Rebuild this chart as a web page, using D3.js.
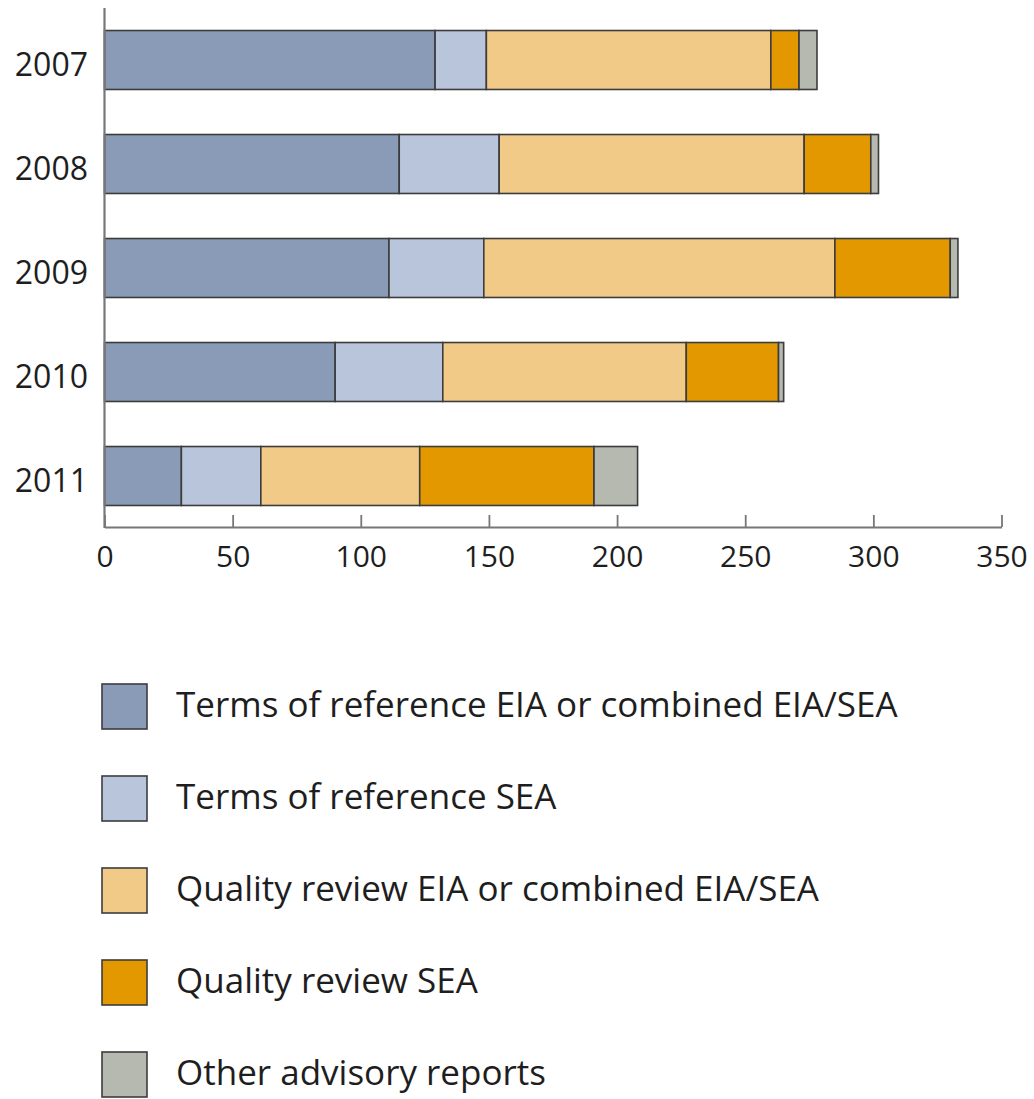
<!DOCTYPE html>
<html lang="en">
<head>
<meta charset="UTF-8">
<script src="https://cdnjs.cloudflare.com/ajax/libs/d3/7.8.5/d3.min.js"></script>
<title>Advisory reports</title>
<style>
	body { margin: 0; background: #fff; }
	text { font-family: "Open Sans", "Noto Sans", sans-serif; fill: #1e1e1e; }
</style>
</head>
<body>
<div id="chart"></div>
<script>
	/* data */
	var years = ["2007", "2008", "2009", "2010", "2011"];
	var series = ["Terms of reference EIA or combined EIA/SEA", "Terms of reference SEA",
		"Quality review EIA or combined EIA/SEA", "Quality review SEA", "Other advisory reports"];
	var torEia = [129, 115, 111, 90, 30];
	var torSea = [20, 39, 37, 42, 31];
	var qrEia = [111, 119, 137, 95, 62];
	var qrSea = [11, 26, 45, 36, 68];
	var other = [7, 3, 3, 2, 17];
	var xTicks = [0, 50, 100, 150, 200, 250, 300, 350];
	var colors = ["#8a9bb8", "#b9c5da", "#f2ca88", "#e39800", "#b5b9b0"];

	var w = 1034, h = 1099;
	var svg = d3.select("#chart").append("svg").attr("width", w).attr("height", h);

	var rows = years.map(function(y, i) {
		return { year: y, s0: torEia[i], s1: torSea[i], s2: qrEia[i], s3: qrSea[i], s4: other[i] };
	});
	var keys = ["s0", "s1", "s2", "s3", "s4"];
	var stacked = d3.stack().keys(keys)(rows);

	var x = d3.scaleLinear().domain([0, 350]).range([104.5, 1001.5]);
	var y = d3.scaleBand().domain(years).range([8, 528]).paddingInner(0.433).paddingOuter(0.2165);

	/* bars */
	svg.append("g").selectAll("g").data(stacked).enter().append("g")
		.attr("fill", function(d, i) { return colors[i]; })
		.selectAll("rect").data(function(d) { return d; }).enter().append("rect")
		.attr("x", function(d) { return x(d[0]); })
		.attr("y", function(d) { return y(d.data.year); })
		.attr("width", function(d) { return x(d[1]) - x(d[0]); })
		.attr("height", y.bandwidth())
		.attr("stroke", "#3c3c3c")
		.attr("stroke-width", 1.6);

	/* y axis line + labels */
	svg.append("line").attr("x1", 104.5).attr("x2", 104.5).attr("y1", 8).attr("y2", 528)
		.attr("stroke", "#777").attr("stroke-width", 2.2);
	svg.append("g").selectAll("text").data(years).enter().append("text")
		.attr("x", 88).attr("y", function(d) { return y(d) + y.bandwidth() / 2 + 16; })
		.attr("text-anchor", "end")
		.attr("font-size", 32).text(function(d) { return d; });

	/* x axis */
	var xAxis = d3.axisBottom(x).tickValues(xTicks).tickSizeInner(-12).tickSizeOuter(0).tickPadding(19);
	var gx = svg.append("g").attr("transform", "translate(0,527)").call(xAxis);
	gx.select(".domain").attr("stroke", "#777").attr("stroke-width", 2.2);
	gx.selectAll(".tick line").attr("stroke", "#777").attr("stroke-width", 1.8);
	gx.selectAll(".tick text").attr("font-size", 30).attr("fill", "#1e1e1e")
		.style("font-family", "'Open Sans', sans-serif");

	/* legend */
	var leg = svg.append("g").selectAll("g").data(series).enter().append("g")
		.attr("transform", function(d, i) { return "translate(102," + (684 + i * 92) + ")"; });
	leg.append("rect").attr("width", 45).attr("height", 45)
		.attr("fill", function(d, i) { return colors[i]; })
		.attr("stroke", "#3c3c3c").attr("stroke-width", 1.6);
	leg.append("text").attr("x", 74).attr("y", 33)
		.attr("font-size", 35).text(function(d) { return d; });
</script>
</body>
</html>
